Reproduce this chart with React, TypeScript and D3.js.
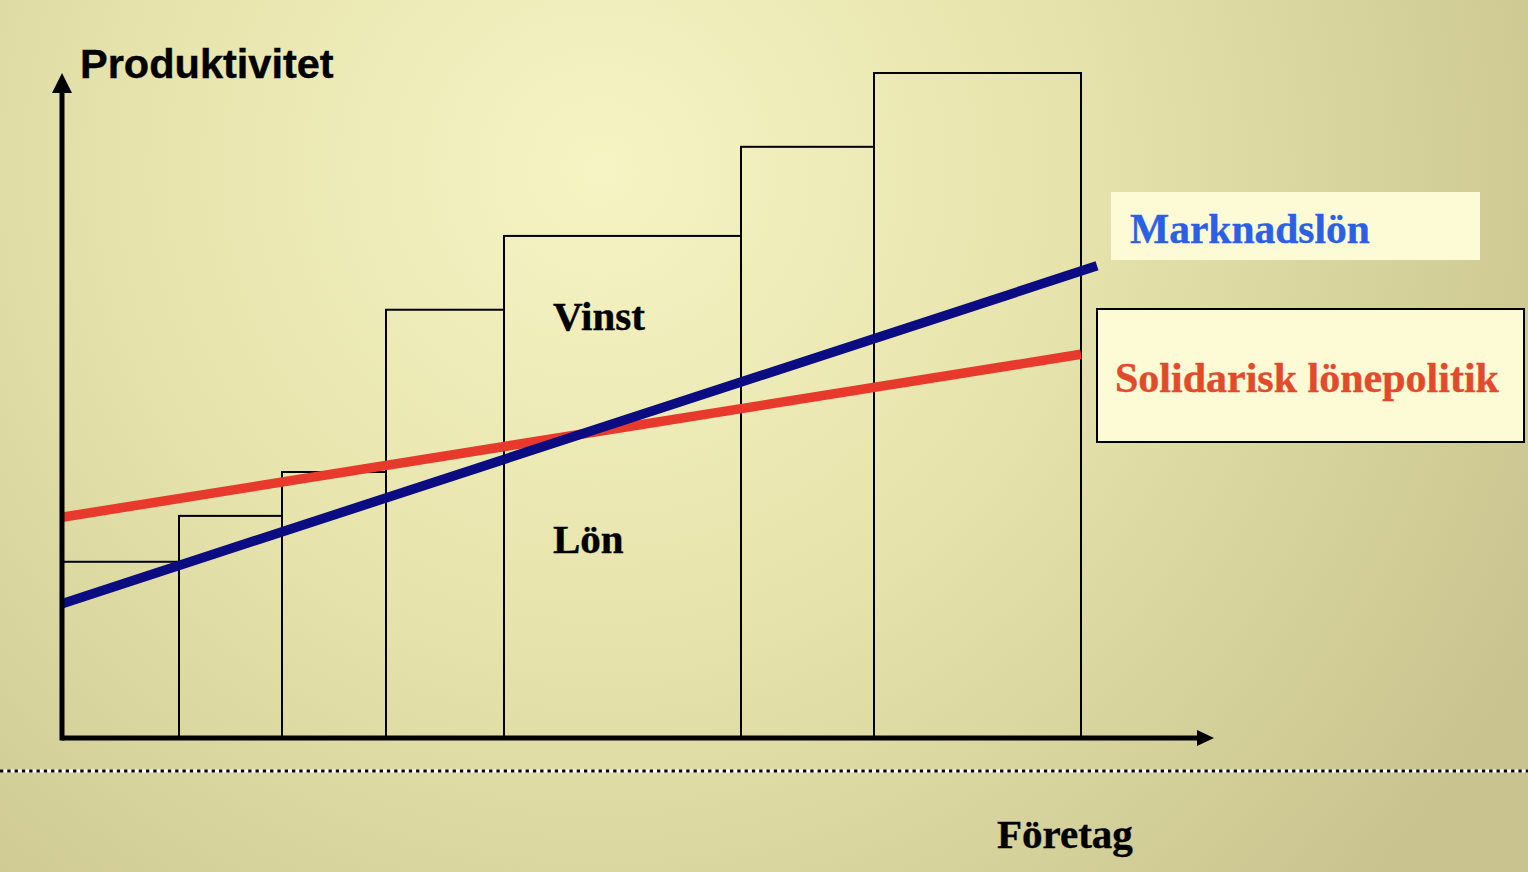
import React from "react";
import * as d3 from "d3";

// Company widths (relative size) and productivity level per company
const companies = ["A", "B", "C", "D", "E", "F", "G"];
const companyWidths = [11.7, 10.3, 10.4, 11.8, 23.7, 13.3, 20.7];
const productivity = [26.5, 33.4, 40.0, 64.4, 75.5, 88.9, 100];

// Wage lines: [company position, wage level]
const marknadslon: [number, number][] = [[0, 20.2], [103.5, 71.0]];
const solidariskLon: [number, number][] = [[0, 33.2], [101.9, 57.7]];

const W = 1528;
const H = 872;

export default function App() {
  const x = d3.scaleLinear().domain([0, 115.2]).range([62, 1214]);
  const y = d3.scaleLinear().domain([0, 100]).range([738, 73]);

  let acc = 0;
  const bars = companies.map((c, i) => {
    const x0 = acc;
    acc += companyWidths[i];
    return { c, x0, x1: acc, v: productivity[i] };
  });

  const line = d3
    .line<[number, number]>()
    .x((d) => x(d[0]))
    .y((d) => y(d[1]));

  const serif = "'Liberation Serif', 'Times New Roman', serif";
  const sans = "'Liberation Sans', Arial, sans-serif";

  return (
    <svg
      width={W}
      height={H}
      style={{ position: "absolute", left: 0, top: 0 }}
    >
      <defs>
        <radialGradient
          id="bg"
          gradientUnits="userSpaceOnUse"
          cx={600}
          cy={170}
          r={1050}
        >
          <stop offset="0" stopColor="#f6f4c4" />
          <stop offset="0.45" stopColor="#e6e3ac" />
          <stop offset="1" stopColor="#c9c48f" />
        </radialGradient>
      </defs>
      <rect width={W} height={H} fill="url(#bg)" />

      {/* company bars */}
      {bars.map((b) => (
        <rect
          key={b.c}
          x={x(b.x0)}
          y={y(b.v)}
          width={x(b.x1) - x(b.x0)}
          height={y(0) - y(b.v)}
          fill="none"
          stroke="#000"
          strokeWidth={2}
        />
      ))}

      {/* wage lines */}
      <path
        d={line(solidariskLon) || ""}
        stroke="#e83a2c"
        strokeWidth={9.5}
        fill="none"
      />
      <path
        d={line(marknadslon) || ""}
        stroke="#0b0b82"
        strokeWidth={9.5}
        fill="none"
      />

      {/* axes */}
      <line x1={62} y1={y(0)} x2={1200} y2={y(0)} stroke="#000" strokeWidth={5} />
      <path d={`M1197,${y(0) - 8} L1214,${y(0)} L1197,${y(0) + 8} Z`} fill="#000" />
      <line x1={62} y1={y(0) + 2.5} x2={62} y2={88} stroke="#000" strokeWidth={5} />
      <path d="M52,93 L62,73 L72,93 Z" fill="#000" />

      {/* dotted separator */}
      <line x1={0} y1={771} x2={W} y2={771} stroke="#fff" strokeWidth={3} />
      <line
        x1={0}
        y1={771}
        x2={W}
        y2={771}
        stroke="#000"
        strokeWidth={3}
        strokeDasharray="3.3 4"
      />

      {/* text */}
      <g stroke="#000" strokeWidth={0.4}>
        <text x={80} y={78} fontFamily={sans} fontWeight="bold" fontSize={41.5} fill="#000">
          Produktivitet
        </text>
        <text x={553} y={330} fontFamily={serif} fontWeight="bold" fontSize={41} fill="#000">
          Vinst
        </text>
        <text x={553} y={553} fontFamily={serif} fontWeight="bold" fontSize={41} fill="#000">
          Lön
        </text>
        <text x={997} y={848} fontFamily={serif} fontWeight="bold" fontSize={41} fill="#000">
          Företag
        </text>
      </g>

      {/* labels */}
      <rect x={1111} y={192} width={369} height={68} fill="#fdfbd6" />
      <text x={1130} y={243} fontFamily={serif} fontWeight="bold" fontSize={41.5} fill="#2b5fe6" stroke="#2b5fe6" strokeWidth={0.4}>
        Marknadslön
      </text>
      <rect x={1097} y={309} width={427} height={133} fill="#fdfbd6" stroke="#000" strokeWidth={2} />
      <text x={1115} y={392} fontFamily={serif} fontWeight="bold" fontSize={42} fill="#e24a2c" stroke="#e24a2c" strokeWidth={0.4}>
        Solidarisk lönepolitik
      </text>
    </svg>
  );
}
